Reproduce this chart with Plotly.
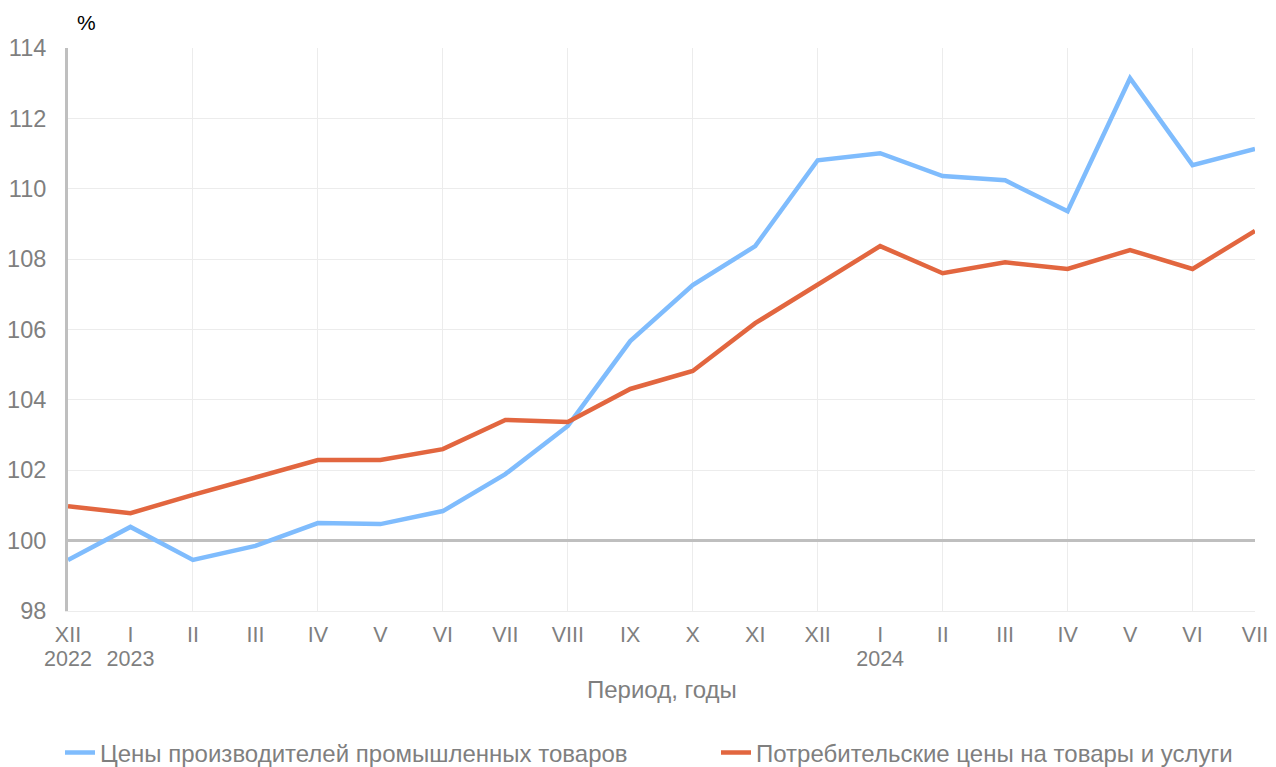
import plotly.graph_objects as go

months = ["XII", "I", "II", "III", "IV", "V", "VI", "VII", "VIII", "IX", "X", "XI",
          "XII", "I", "II", "III", "IV", "V", "VI", "VII"]
year_pos = [0, 1, 13]
year_labels = ["2022", "2023", "2024"]

producer = [99.45, 100.39, 99.45, 99.85, 100.50, 100.47, 100.84, 101.89, 103.26, 105.67,
            107.26, 108.37, 110.81, 111.01, 110.36, 110.24, 109.36, 113.14, 110.67, 111.13]
consumer = [100.98, 100.78, 101.30, 101.78, 102.29, 102.29, 102.60, 103.43, 103.37, 104.31,
            104.82, 106.18, 107.26, 108.37, 107.60, 107.91, 107.72, 108.26, 107.72, 108.80]

name_prod = "Цены производителей промышленных товаров"
name_cons = "Потребительские цены на товары и услуги"

x = list(range(len(months)))
gray = "#7f7f7f"
font = "Liberation Sans, Arial, sans-serif"

# page body has an 8px margin, so the figure is drawn 8px in from the window corner
W, H = 1268, 759

fig = go.Figure()
# invisible helpers: overlay axes for the 100 baseline, every-second-month gridlines, year labels
fig.add_trace(go.Scatter(x=x, y=consumer, mode="lines", xaxis="x2", yaxis="y2",
                         showlegend=False, hoverinfo="skip", line=dict(width=0), opacity=0))
fig.add_trace(go.Scatter(x=x, y=consumer, mode="lines", xaxis="x3", showlegend=False,
                         hoverinfo="skip", line=dict(width=0), opacity=0))
fig.add_trace(go.Scatter(x=x, y=producer, mode="lines", name=name_prod, legend="legend",
                         line=dict(color="#7fbcfd", width=4.5)))
fig.add_trace(go.Scatter(x=x, y=consumer, mode="lines", name=name_cons, legend="legend2",
                         line=dict(color="#e2663f", width=4.5)))

legend_common = dict(orientation="h", xref="container", yref="container",
                     yanchor="middle", xanchor="left", bgcolor="rgba(0,0,0,0)",
                     font=dict(size=24, color=gray, family=font))

fig.update_layout(
    width=W, height=H,
    margin=dict(l=60, r=21, t=40, b=156, autoexpand=False),
    paper_bgcolor="white", plot_bgcolor="white",
    font=dict(family=font, size=20, color=gray),
    showlegend=True,
    legend=dict(legend_common, x=52 / W, y=1 - 745 / H),
    legend2=dict(legend_common, x=708 / W, y=1 - 745 / H),
    xaxis=dict(range=[0, 19], tickvals=x, ticktext=months, automargin=False,
               showgrid=False, ticks="outside", ticklen=4, tickcolor="rgba(0,0,0,0)",
               showline=True, linecolor="#ececec", linewidth=1,
               ticklabeloverflow="allow",
               tickfont=dict(size=21.5, color=gray)),
    xaxis2=dict(range=[0, 19], overlaying="x", tickvals=list(range(0, 20, 2)) + [19],
                showticklabels=False, showgrid=True, gridcolor="#ececec", gridwidth=1,
                ticks="", automargin=False),
    xaxis3=dict(range=[0, 19], overlaying="x", side="bottom", tickvals=year_pos,
                ticktext=year_labels, showgrid=False, ticks="outside", ticklen=28,
                tickcolor="rgba(0,0,0,0)", automargin=False,
                tickfont=dict(size=21.5, color=gray)),
    yaxis=dict(range=[98, 114], dtick=2, tick0=98, showgrid=True, gridcolor="#ececec",
               gridwidth=1, showline=True, linecolor="#bfbfbf", linewidth=3,
               ticks="", ticklabelstandoff=14, automargin=False,
               tickfont=dict(size=23.5, color=gray)),
    yaxis2=dict(range=[98, 114], overlaying="y", tickvals=[100], showticklabels=False,
                showgrid=True, gridcolor="#bfbfbf", gridwidth=3, ticks="",
                automargin=False),
    annotations=[
        dict(text="%", xref="paper", yref="paper", x=0.006, y=1.0,
             xanchor="left", yanchor="bottom", yshift=12, showarrow=False,
             font=dict(size=21, color="black")),
        dict(text="Период, годы", xref="paper", yref="paper", x=0.5, y=0,
             xanchor="center", yanchor="middle", yshift=-78, showarrow=False,
             font=dict(size=24, color=gray)),
    ],
)

fig.write_html("out.html")
